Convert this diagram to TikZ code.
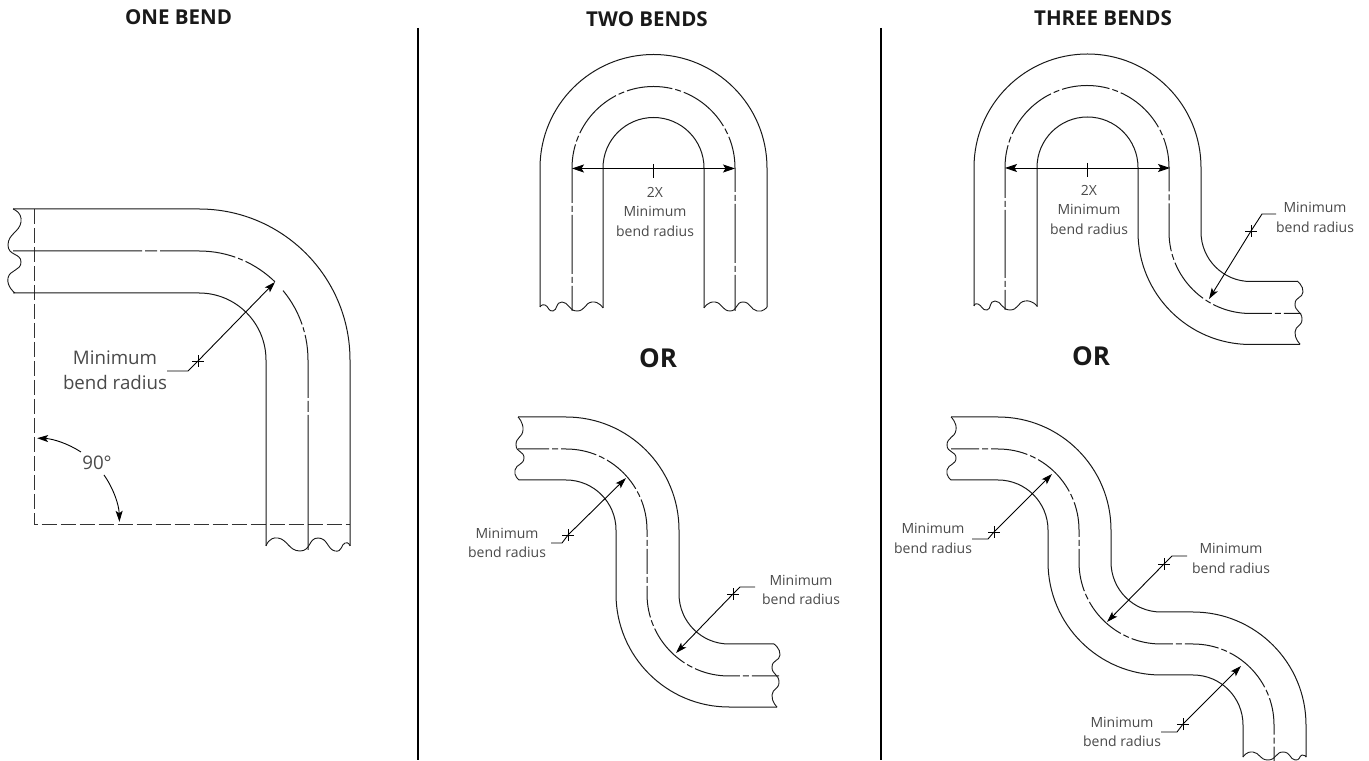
\documentclass[tikz,border=0pt]{standalone}
\usepackage{fontspec}
\setmainfont{Open Sans}
\usetikzlibrary{arrows.meta}
\definecolor{txt}{HTML}{4A4A4A}
\tikzset{
  x=1bp,y=1bp,
  tube/.style={line width=1bp,black!90},
  cl/.style={line width=1bp,black!90},
  dashln/.style={line width=1bp,black!80,dash pattern=on 15bp off 4bp},
  wavy/.style={line width=.9bp,black!90,smooth,tension=1},
  dim/.style={line width=.9bp,black,-{Stealth[length=11bp,width=7bp,inset=2.5bp]}},
  dimb/.style={line width=.9bp,black,{Stealth[length=12bp,width=8bp,inset=2.5bp]}-{Stealth[length=12bp,width=8bp,inset=2.5bp]}},
  leader/.style={line width=.9bp,black},
  ttl/.style={inner sep=0pt,font=\fontsize{20.5bp}{24bp}\selectfont\bfseries,text=black!90},
  orr/.style={inner sep=0pt,font=\fontsize{26bp}{30bp}\selectfont\bfseries,text=black!90},
  lab/.style={inner sep=0pt,align=center,text=txt,font=\fontsize{14bp}{19.5bp}\selectfont},
  labbig/.style={inner sep=0pt,align=center,text=txt,font=\fontsize{18.7bp}{25bp}\selectfont},
  divd/.style={line width=1.3bp,black}
}
\newcommand{\crossat}[1]{\draw[leader] ([xshift=-6bp]#1) -- ([xshift=6bp]#1) ([yshift=-6bp]#1) -- ([yshift=6bp]#1);}
\begin{document}
\begin{tikzpicture}
\useasboundingbox (0,0) rectangle (1369,760);
\fill[white] (0,0) rectangle (1369,760);
% titles and dividers
\node[ttl] (t1) at (178.5,760-17) {ONE BEND};
\node[ttl] (t2) at (647,760-19) {TWO BENDS};
\node[ttl] (t3) at (1103,760-18) {THREE BENDS};
\node[orr] (or1) at (658,760-358) {OR};
\node[orr] (or2) at (1091,760-356) {OR};
\coordinate (d1a) at (418,760-28); \coordinate (d1b) at (418,0);
\coordinate (d2a) at (881,760-28); \coordinate (d2b) at (881,0);
\draw[divd] (d1a) -- (d1b);
\draw[divd] (d2a) -- (d2b);

% ---------- ONE BEND
\draw[dashln] (34,760-209) -- (34,760-524.5) -- (350,760-524.5);
\draw[tube] (13,760-209) -- (199,760-209) arc[start angle=90,end angle=0,radius=151] -- (350,760-546);
\draw[tube] (13,760-293) -- (199,760-293) arc[start angle=90,end angle=0,radius=67] -- (266,760-546);
\draw[cl,dash pattern=on 129bp off 3bp on 12bp off 3bp on 76bp off 3bp on 5bp off 3bp on 36bp off 12bp on 39bp off 3bp on 5bp off 3bp on 63bp off 3bp on 11bp off 3bp on 200bp]
  (13,760-251) -- (199,760-251) arc[start angle=90,end angle=0,radius=109] -- (308,760-550);
\draw[wavy] plot coordinates {(13,760-209) (21,760-222) (8,760-245) (21,760-262) (8,760-278) (15,760-293)};
\draw[wavy] plot coordinates {(266,760-546) (278,760-538) (300,760-551) (318,760-538) (335,760-551) (345,760-543) (350,760-546)};
\coordinate (c1) at (198,760-361); \coordinate (c1t) at (275,760-282);
\coordinate (c1k) at (188,760-371); \coordinate (c1e) at (167,760-371);
\crossat{c1}
\draw[leader] (c1e) -- (c1k) -- (c1);
\draw[dim] (c1) -- (c1t);
\node[labbig] (l1) at (115,760-370.5) {Minimum\\bend radius};
\node[labbig] (a90) at (97,760-463) {90°};
\coordinate (a1) at (81,760-452); \coordinate (a2) at (104,760-475);
\draw[dim] (a1) arc[start angle=57,end angle=88,radius=86];
\draw[dim] (a2) arc[start angle=35,end angle=1.5,radius=85.5];

% ---------- TWO BENDS top
\draw[tube] (540,760-307) -- (540,760-168) arc[start angle=180,end angle=0,radius=113.5] -- (767,760-307);
\draw[tube] (603,760-308) -- (603,760-168) arc[start angle=180,end angle=0,radius=50.5] -- (704,760-308);
\draw[cl,dash pattern=on 25bp off 3bp on 6bp off 3bp on 59bp off 3bp on 6bp off 3bp on 59bp off 3bp on 6bp off 3bp on 53bp off 3bp on 6bp off 3bp on 46bp off 3bp on 6bp off 3bp on 53bp off 3bp on 6bp off 3bp on 56bp off 3bp on 6bp off 3bp on 59bp off 3bp on 6bp off 3bp on 60bp]
  (572,760-311) -- (572,760-168) arc[start angle=180,end angle=0,radius=81.5] -- (735,760-311);
\draw[wavy] plot coordinates {(540,760-307) (545,760-305) (553,760-311) (562,760-302) (577,760-311) (592,760-302) (603,760-308)};
\draw[wavy] plot coordinates {(704,760-308) (715,760-302) (730,760-311) (743,760-302) (757,760-311) (767,760-307)};
\coordinate (b1) at (572,760-168.5); \coordinate (b2) at (735,760-168.5);
\coordinate (b3) at (653.3,760-164); \coordinate (b4) at (653.3,760-178);
\draw[dimb] (b1) -- (b2);
\draw[leader] (b3) -- (b4);
\node[lab] (l2) at (655,760-212) {2X\\Minimum\\bend radius};

% ---------- TWO BENDS bottom
\draw[tube] (518,760-417) -- (566,760-417) arc[start angle=90,end angle=0,radius=113] -- (679,760-594) arc[start angle=180,end angle=270,radius=50] -- (774,760-644);
\draw[tube] (519,760-480) -- (566,760-480) arc[start angle=90,end angle=0,radius=50] -- (616,760-594) arc[start angle=180,end angle=270,radius=113] -- (777,760-707);
\draw[cl,dash pattern=on 31bp off 3bp on 6bp off 3bp on 36bp off 3bp on 6bp off 3bp on 41bp off 3bp on 6bp off 3bp on 38bp off 3bp on 6bp off 3bp on 25bp off 3bp on 6bp off 3bp on 32bp off 3bp on 6bp off 3bp on 46bp off 3bp on 6bp off 3bp on 46bp off 3bp on 6bp off 3bp on 30bp]
  (518,760-449) -- (566,760-449) arc[start angle=90,end angle=0,radius=81] -- (647,760-594) arc[start angle=180,end angle=270,radius=82] -- (779,760-676);
\draw[wavy] plot coordinates {(518,760-417) (523,760-430) (516,760-445) (524,760-458) (515,760-470) (519,760-480)};
\draw[wavy] plot coordinates {(774,760-644) (780,760-655) (772,760-667) (779,760-682) (772,760-695) (777,760-707)};
\coordinate (c2) at (568,760-535); \coordinate (c2t) at (626,760-478);
\coordinate (c2k) at (562,760-543); \coordinate (c2e) at (551,760-543);
\crossat{c2}
\draw[leader] (c2e) -- (c2k) -- (c2);
\draw[dim] (c2) -- (c2t);
\node[lab] (l3) at (507,760-543) {Minimum\\bend radius};
\coordinate (c3) at (733,760-594); \coordinate (c3t) at (676,760-653);
\coordinate (c3k) at (740,760-587); \coordinate (c3e) at (755,760-587);
\crossat{c3}
\draw[leader] (c3e) -- (c3k) -- (c3);
\draw[dim] (c3) -- (c3t);
\node[lab] (l4) at (801,760-590) {Minimum\\bend radius};

% ---------- THREE BENDS top
\draw[tube] (974,760-306) -- (974,760-167.5) arc[start angle=180,end angle=0,radius=113.5] -- (1201,760-232) arc[start angle=180,end angle=270,radius=49.5] -- (1297,760-281.5);
\draw[tube] (1037,760-307) -- (1037,760-167.5) arc[start angle=180,end angle=0,radius=50.5] -- (1138,760-232) arc[start angle=180,end angle=270,radius=112.5] -- (1300,760-344.5);
\draw[cl,dash pattern=on 20bp off 3bp on 6bp off 3bp on 68bp off 3bp on 6bp off 3bp on 53bp off 3bp on 6bp off 3bp on 57bp off 3bp on 6bp off 3bp on 48bp off 3bp on 6bp off 3bp on 52bp off 3bp on 6bp off 3bp on 54bp off 3bp on 6bp off 3bp on 48bp off 3bp on 6bp off 3bp on 46bp off 3bp on 6bp off 3bp on 60bp off 3bp on 6bp off 3bp on 20bp]
  (1005,760-310) -- (1005,760-167.5) arc[start angle=180,end angle=0,radius=82] -- (1169,760-232) arc[start angle=180,end angle=270,radius=81.5] -- (1301,760-313.5);
\draw[wavy] plot coordinates {(974,760-306) (978,760-304) (987,760-310) (995,760-301) (1010,760-310) (1025,760-301) (1037,760-306)};
\draw[wavy] plot coordinates {(1297,760-281) (1303,760-292) (1295,760-304) (1302,760-319) (1295,760-332) (1300,760-344)};
\coordinate (b5) at (1005,760-168); \coordinate (b6) at (1170,760-168);
\coordinate (b7) at (1087.5,760-163); \coordinate (b8) at (1087.5,760-177);
\draw[dimb] (b5) -- (b6);
\draw[leader] (b7) -- (b8);
\node[lab] (l5) at (1089,760-210) {2X\\Minimum\\bend radius};
\coordinate (c4) at (1251,760-231); \coordinate (c4t) at (1209,760-299);
\coordinate (c4k) at (1262,760-214); \coordinate (c4e) at (1276,760-214);
\crossat{c4}
\draw[leader] (c4e) -- (c4k) -- (c4);
\draw[dim] (c4) -- (c4t);
\node[lab] (l6) at (1315,760-217.5) {Minimum\\bend radius};

% ---------- THREE BENDS bottom
\draw[tube] (951,760-417) -- (998,760-417) arc[start angle=90,end angle=0,radius=113] -- (1111,760-562) arc[start angle=180,end angle=270,radius=50] -- (1193,760-612) arc[start angle=90,end angle=0,radius=113] -- (1306,760-757);
\draw[tube] (951,760-480) -- (998,760-480) arc[start angle=90,end angle=0,radius=50] -- (1048,760-562) arc[start angle=180,end angle=270,radius=113] -- (1193,760-675) arc[start angle=90,end angle=0,radius=50] -- (1243,760-757);
\draw[cl,dash pattern=on 28bp off 3bp on 6bp off 3bp on 37bp off 3bp on 6bp off 3bp on 45bp off 3bp on 6bp off 3bp on 35bp off 3bp on 6bp off 3bp on 43bp off 3bp on 6bp off 3bp on 45bp off 3bp on 6bp off 3bp on 42bp off 3bp on 6bp off 3bp on 34bp off 3bp on 6bp off 3bp on 50bp off 3bp on 6bp off 3bp on 37bp off 3bp on 6bp off 3bp on 30bp]
  (951,760-449) -- (998,760-449) arc[start angle=90,end angle=0,radius=81] -- (1079,760-562) arc[start angle=180,end angle=270,radius=82] -- (1193,760-644) arc[start angle=90,end angle=0,radius=81] -- (1274,760-762);
\draw[wavy] plot coordinates {(951,760-417) (956,760-430) (947,760-445) (956,760-458) (947,760-470) (951,760-480)};
\draw[wavy] plot coordinates {(1243,760-757) (1253,760-752) (1268,760-760) (1283,760-752) (1295,760-760) (1302,760-755) (1306,760-757)};
\coordinate (c5) at (994,760-532); \coordinate (c5t) at (1052,760-474);
\coordinate (c5k) at (988,760-539); \coordinate (c5e) at (972,760-539);
\crossat{c5}
\draw[leader] (c5e) -- (c5k) -- (c5);
\draw[dim] (c5) -- (c5t);
\node[lab] (l7) at (933,760-538.5) {Minimum\\bend radius};
\coordinate (c6) at (1164,760-564); \coordinate (c6t) at (1107,760-622);
\coordinate (c6k) at (1172,760-556); \coordinate (c6e) at (1187,760-556);
\crossat{c6}
\draw[leader] (c6e) -- (c6k) -- (c6);
\draw[dim] (c6) -- (c6t);
\node[lab] (l8) at (1231,760-558.5) {Minimum\\bend radius};
\coordinate (c7) at (1183,760-724); \coordinate (c7t) at (1241,760-666);
\coordinate (c7k) at (1177,760-732); \coordinate (c7e) at (1161,760-732);
\crossat{c7}
\draw[leader] (c7e) -- (c7k) -- (c7);
\draw[dim] (c7) -- (c7t);
\node[lab] (l9) at (1122,760-732) {Minimum\\bend radius};
\end{tikzpicture}
\end{document}
